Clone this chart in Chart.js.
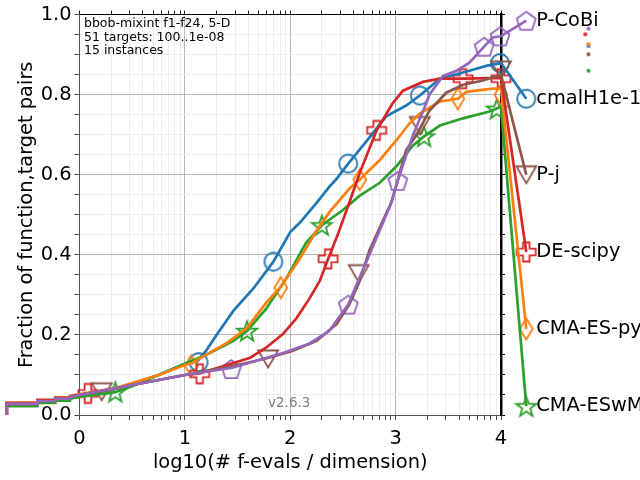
<!DOCTYPE html>
<html><head><meta charset="utf-8">
<script src="https://cdn.jsdelivr.net/npm/chart.js@4.4.1/dist/chart.umd.min.js"></script>
<style>html,body{margin:0;padding:0;background:#fff;overflow:hidden}</style>
</head><body>
<canvas id="c" width="640" height="480" style="width:640px;height:480px;display:block"></canvas>
<script>
// ---------------- data ----------------
const seriesNames = ['cmalH1e-1', 'CMA-ES-py', 'CMA-ESwM', 'DE-scipy', 'P-CoBi', 'P-j'];

const blueX = [-0.69,-0.69,-0.40,-0.40,-0.23,-0.23,-0.09,-0.09,0,0.3,0.5,0.75,1.0,1.12,1.2,1.3,1.46,1.65,1.84,2.0,2.09,2.25,2.37,2.44,2.55,2.73,2.91,3.1,3.23,3.42,3.7,3.86,4.0,4.24];
const blueY = [0,0.027,0.027,0.035,0.035,0.041,0.041,0.046,0.05,0.062,0.078,0.10,0.128,0.135,0.16,0.20,0.26,0.316,0.383,0.457,0.48,0.53,0.57,0.59,0.628,0.686,0.746,0.773,0.798,0.84,0.86,0.872,0.879,0.79];

const orangeX = [-0.69,-0.69,-0.40,-0.40,-0.23,-0.23,-0.09,-0.09,0,0.3,0.5,0.75,1.0,1.07,1.2,1.4,1.59,1.77,1.91,2.09,2.25,2.37,2.56,2.66,2.85,3.01,3.13,3.23,3.42,3.59,3.67,3.92,4.0,4.24];
const orangeY = [0,0.031,0.031,0.038,0.038,0.044,0.044,0.048,0.052,0.064,0.08,0.10,0.125,0.13,0.15,0.18,0.217,0.28,0.32,0.39,0.46,0.506,0.565,0.588,0.637,0.687,0.728,0.753,0.783,0.79,0.807,0.815,0.815,0.215];

const greenX = [-0.69,-0.69,-0.40,-0.40,-0.23,-0.23,-0.09,-0.09,0,0.34,0.5,0.75,1.0,1.2,1.46,1.59,1.77,1.96,2.15,2.30,2.5,2.66,2.85,3.01,3.16,3.27,3.42,3.64,3.89,4.0,4.24];
const greenY = [0,0.022,0.022,0.03,0.03,0.036,0.036,0.041,0.045,0.057,0.072,0.10,0.128,0.15,0.185,0.21,0.265,0.34,0.43,0.474,0.512,0.548,0.58,0.622,0.672,0.696,0.723,0.741,0.758,0.77,0.022];

const redX = [-0.69,-0.69,-0.40,-0.40,-0.23,-0.23,-0.09,-0.09,0,0.08,0.5,1.0,1.14,1.4,1.62,1.77,1.93,2.06,2.18,2.28,2.36,2.45,2.56,2.66,2.82,2.97,3.07,3.26,3.42,3.64,4.0,4.24];
const redY = [0,0.03,0.03,0.037,0.037,0.043,0.043,0.047,0.05,0.054,0.075,0.10,0.104,0.125,0.143,0.168,0.202,0.242,0.29,0.335,0.39,0.45,0.53,0.605,0.711,0.778,0.81,0.832,0.84,0.84,0.842,0.407];

const purpleX = [-0.69,-0.69,-0.40,-0.40,-0.23,-0.23,-0.09,-0.09,0,0.5,1.0,1.45,1.93,2.18,2.37,2.55,2.63,2.75,2.88,2.96,3.02,3.16,3.29,3.32,3.45,3.58,3.7,3.77,3.84,3.92,4.0,4.24];
const purpleY = [0,0.028,0.028,0.035,0.035,0.041,0.041,0.046,0.05,0.075,0.10,0.118,0.155,0.178,0.21,0.276,0.326,0.40,0.48,0.531,0.585,0.696,0.778,0.80,0.847,0.86,0.88,0.90,0.92,0.943,0.946,0.985];

const brownX = [-0.69,-0.69,-0.40,-0.40,-0.23,-0.23,-0.09,-0.09,0,0.21,0.5,1.0,1.5,1.77,2.02,2.25,2.44,2.56,2.66,2.75,2.87,2.96,3.1,3.2,3.32,3.48,3.64,3.82,4.0,4.24];
const brownY = [0,0.027,0.027,0.035,0.035,0.041,0.041,0.046,0.05,0.06,0.075,0.10,0.125,0.141,0.16,0.185,0.227,0.276,0.335,0.41,0.48,0.531,0.662,0.70,0.76,0.805,0.825,0.835,0.85,0.60];

// marker positions (last one = label marker)
const blueMX = [1.13,1.84,2.55,3.23,3.99,4.24];        const blueMY = [0.132,0.383,0.628,0.798,0.879,0.79];
const orangeMX = [1.06,1.91,2.66,3.59,4.0,4.24];       const orangeMY = [0.123,0.318,0.588,0.79,0.80,0.215];
const greenMX = [0.34,1.59,2.30,3.27,3.96,4.24];       const greenMY = [0.058,0.21,0.474,0.696,0.765,0.022];
const redMX = [0.08,1.14,2.36,2.82,3.64,4.0,4.24];     const redMY = [0.054,0.103,0.39,0.711,0.84,0.84,0.407];
const purpleMX = [1.44,2.55,3.02,3.84,3.99,4.24];      const purpleMY = [0.115,0.276,0.585,0.92,0.946,0.985];
const brownMX = [0.21,1.79,2.65,3.23,4.0,4.24];        const brownMY = [0.058,0.14,0.353,0.723,0.862,0.60];

// small dots at the right
const dotX = [4.83, 4.80, 4.83, 4.83, 4.83, 4.83];
const dotY = [0.922, 0.951, 0.926, 0.965, 0.901, 0.86]; // blue, red, orange, purple, brown, green

const xMajor = [0,1,2,3,4];
const yMajor = [0,0.2,0.4,0.6,0.8,1.0];
const infoLines = ['bbob-mixint f1-f24, 5-D', '51 targets: 100..1e-08', '15 instances'];
const versionText = 'v2.6.3';
const xTitle = 'log10(# f-evals / dimension)';
const yTitle = 'Fraction of function,target pairs';

// ---------------- styling ----------------
const FONT = 'DejaVu Sans';
const colors = {blue:'#1f77b4', orange:'#ff7f0e', green:'#2ca02c', red:'#d62728', purple:'#9467bd', brown:'#8c564b'};

function mk(shape, color){
  const S = 28, c = document.createElement('canvas'); c.width = S; c.height = S;
  const g = c.getContext('2d'); g.translate(S/2, S/2);
  g.strokeStyle = color; g.lineWidth = 1.8; g.lineJoin = 'miter';
  g.beginPath();
  const poly = pts => { pts.forEach((p,i)=> i ? g.lineTo(p[0],p[1]) : g.moveTo(p[0],p[1])); g.closePath(); };
  if (shape === 'circle') g.arc(0,0,9,0,Math.PI*2);
  else if (shape === 'pentagon') { const p=[]; for(let k=0;k<5;k++){const a=-Math.PI/2+k*2*Math.PI/5; p.push([10*Math.cos(a),10*Math.sin(a)+1]);} poly(p); }
  else if (shape === 'star') { const p=[]; for(let k=0;k<10;k++){const a=-Math.PI/2+k*Math.PI/5; const r=k%2?4.3:10.5; p.push([r*Math.cos(a),r*Math.sin(a)+1]);} poly(p); }
  else if (shape === 'plus') { const a=3.3,b=9.5; poly([[-a,-b],[a,-b],[a,-a],[b,-a],[b,a],[a,a],[a,b],[-a,b],[-a,a],[-b,a],[-b,-a],[-a,-a]]); }
  else if (shape === 'tri') poly([[-10,-8.5],[10,-8.5],[0,8.5]]);
  else if (shape === 'diamond') poly([[0,-10.5],[6.5,0],[0,10.5],[-6.5,0]]);
  g.stroke(); return c;
}
function dot(color){
  const c = document.createElement('canvas'); c.width = 6; c.height = 6;
  const g = c.getContext('2d'); g.fillStyle = color; g.beginPath(); g.arc(3,3,2,0,Math.PI*2); g.fill(); return c;
}

const series = [
  {name: seriesNames[4], xs: purpleX, ys: purpleY, mx: purpleMX, my: purpleMY, color: colors.purple, shape:'pentagon'},
  {name: seriesNames[5], xs: brownX, ys: brownY, mx: brownMX, my: brownMY, color: colors.brown, shape:'tri'},
  {name: seriesNames[3], xs: redX, ys: redY, mx: redMX, my: redMY, color: colors.red, shape:'plus'},
  {name: seriesNames[1], xs: orangeX, ys: orangeY, mx: orangeMX, my: orangeMY, color: colors.orange, shape:'diamond'},
  {name: seriesNames[2], xs: greenX, ys: greenY, mx: greenMX, my: greenMY, color: colors.green, shape:'star'},
  {name: seriesNames[0], xs: blueX, ys: blueY, mx: blueMX, my: blueMY, color: colors.blue, shape:'circle'},
];
const zip = (xs, ys) => xs.map((x,i)=>({x, y: ys[i]}));

const datasets = [];
series.forEach(s => {
  datasets.push({type:'scatter', label: s.name, data: zip(s.xs, s.ys), showLine: true, borderColor: s.color,
    borderWidth: 2.7, pointRadius: 0, clip: false, tension: 0, fill: false});
});
series.forEach(s => {
  datasets.push({type:'scatter', label: s.name + ' markers', data: zip(s.mx, s.my), showLine: false,
    pointStyle: mk(s.shape, s.color), pointRadius: 40, clip: false, isMarker: true, seriesName: s.name});
});
const dotColors = [colors.blue, colors.red, colors.orange, colors.purple, colors.brown, colors.green];
datasets.push({type:'scatter', label:'dots', data: zip(dotX, dotY), showLine:false,
  pointStyle: dotColors.map(dot), pointRadius: 120, clip: false});

const xTicks = [];
for (let d = 0; d < 4; d++) for (let m = 1; m < 10; m++) xTicks.push(d + Math.log10(m));
xTicks.push(4);
const yTicks = []; for (let i = 0; i <= 20; i++) yTicks.push(i/20);
const isXMajor = v => xMajor.some(m => Math.abs(m - v) < 1e-9);
const isYMajor = v => yMajor.some(m => Math.abs(m - v) < 1e-9);

const PAD_L = 11, PAD_B = 1;
const AREA_L = 79.5, AREA_R = 501, AREA_T = 10, AREA_B = 415;

const textPlugin = {
  id: 'texts',
  afterDatasetsDraw(chart) {
    const ctx = chart.ctx, xs = chart.scales.x, ys = chart.scales.y;
    ctx.save();
    chart.data.datasets.forEach(ds => {
      if (!ds.isMarker) return;
      const p = ds.data[ds.data.length - 1];
      const px = xs.getPixelForValue(p.x), py = ys.getPixelForValue(p.y);
      ctx.font = '19.4px "' + FONT + '"'; ctx.fillStyle = '#000';
      ctx.textAlign = 'left'; ctx.textBaseline = 'middle';
      ctx.fillText(ds.seriesName, px + 10, py);
    });
    ctx.font = '12.5px "' + FONT + '"'; ctx.fillStyle = '#000'; ctx.textBaseline = 'middle'; ctx.textAlign = 'left';
    infoLines.forEach((t, i) => ctx.fillText(t, chart.chartArea.left + 4.5, chart.chartArea.top + 9 + i * 13.7));
    ctx.font = '13.5px "' + FONT + '"'; ctx.fillStyle = '#808080'; ctx.textAlign = 'center';
    ctx.fillText(versionText, xs.getPixelForValue(1.99), chart.chartArea.bottom - 12);
    ctx.restore();
  }
};

const tickFont = {family: FONT, size: 19.4};
new Chart(document.getElementById('c'), {
  type: 'scatter',
  data: {datasets},
  options: {
    responsive: false, animation: false, devicePixelRatio: 1, events: [],
    layout: {autoPadding: false, padding: {left: PAD_L, right: 0, top: 0, bottom: PAD_B}},
    plugins: {legend: {display: false}, tooltip: {enabled: false}},
    scales: {
      x: {
        type: 'linear', position: 'bottom', bounds: 'data',
        afterDataLimits: s => { s.min = 0; s.max = 4; },
        afterBuildTicks: s => { s.ticks = xTicks.map(v => ({value: v})); },
        afterFit: s => { s.height = 480 - AREA_B - PAD_B; },
        ticks: {autoSkip: false, maxRotation: 0, font: tickFont, color: '#000', padding: 7,
          callback: v => isXMajor(v) ? String(Math.round(v)) : ''},
        grid: {color: c => c.tick && isXMajor(c.tick.value) ? '#b0b0b0' : '#ebebeb', lineWidth: 0.9,
          tickColor: '#333', tickLength: 5, tickWidth: 0.9},
        border: {color: '#555', width: 1},
        title: {display: true, text: xTitle, font: {family: FONT, size: 19.4}, color: '#000', padding: {top: 0, bottom: 4}}
      },
      x2: {
        type: 'linear', position: 'top', min: 0, max: 4, bounds: 'data',
        afterBuildTicks: s => { s.ticks = xTicks.map(v => ({value: v})); },
        afterFit: s => { s.height = AREA_T; },
        ticks: {display: false},
        grid: {drawOnChartArea: false, tickColor: '#000', tickLength: 4, tickWidth: 0.9},
        border: {color: '#000', width: 1}
      },
      y: {
        type: 'linear', position: 'left', min: 0, max: 1, bounds: 'data',
        afterBuildTicks: s => { s.ticks = yTicks.map(v => ({value: v})); },
        afterFit: s => { s.width = AREA_L - PAD_L; },
        ticks: {autoSkip: false, font: tickFont, color: '#000', padding: 3,
          callback: v => isYMajor(v) ? v.toFixed(1) : ''},
        grid: {color: c => c.tick && isYMajor(c.tick.value) ? '#b0b0b0' : '#ebebeb', lineWidth: 0.9,
          tickColor: '#333', tickLength: 5, tickWidth: 0.9},
        border: {color: '#555', width: 1},
        title: {display: true, text: yTitle, font: {family: FONT, size: 19.4}, color: '#000', padding: {top: 4, bottom: 0}}
      },
      y2: {
        type: 'linear', position: 'right', min: 0, max: 1, bounds: 'data',
        afterBuildTicks: s => { s.ticks = yTicks.map(v => ({value: v})); },
        afterFit: s => { s.width = 640 - AREA_R; },
        ticks: {display: false},
        grid: {drawOnChartArea: false, tickColor: '#000', tickLength: 4, tickWidth: 1},
        border: {color: '#000', width: 2.5}
      }
    }
  },
  plugins: [textPlugin]
});
</script>
</body></html>
